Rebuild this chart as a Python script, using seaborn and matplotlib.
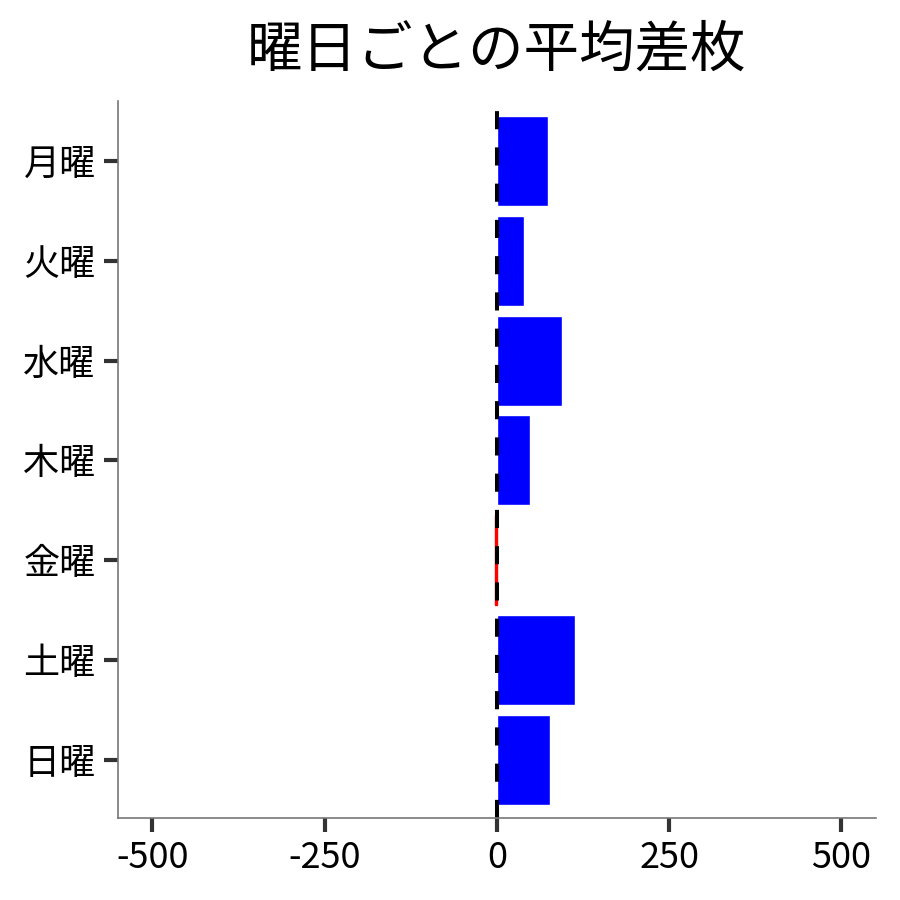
import matplotlib
matplotlib.use("Agg")
import matplotlib.pyplot as plt
import seaborn as sns
import pandas as pd

# ── data ───────────────────────────────────────────────
weekdays = ["月曜", "火曜", "水曜", "木曜", "金曜", "土曜", "日曜"]
avg_diff = [74, 40, 95, 48, -3, 113, 77]
x_ticks = [-500, -250, 0, 250, 500]

# ── style ──────────────────────────────────────────────
sns.set_theme(style="ticks")
plt.rcParams["font.family"] = ["Noto Sans CJK JP", "DejaVu Sans"]
plt.rcParams.update({
    "text.color": "black",
    "xtick.labelcolor": "black",
    "ytick.labelcolor": "black",
    "axes.titlecolor": "black",
})

df = pd.DataFrame({"weekday": weekdays, "diff": avg_diff})
df["sign"] = ["pos" if v >= 0 else "neg" for v in df["diff"]]

fig, ax = plt.subplots(figsize=(9, 9), dpi=100)
fig.subplots_adjust(left=0.131, right=0.973, bottom=0.091, top=0.888)

sns.barplot(data=df, y="weekday", x="diff", hue="sign",
            palette={"pos": "#0000FF", "neg": "#FF0000"},
            order=weekdays, orient="h", width=0.9, dodge=False,
            legend=False, saturation=1, ax=ax)

# make the tiny negative bar readable like in the reference
for bar in ax.patches:
    if bar.get_width() < 0:
        bar.set_edgecolor("#FF0000")
        bar.set_linewidth(1.0)

ax.axvline(0, color="black", linewidth=2.9, linestyle=(0, (4.5, 4.5)))

ax.set_xlim(-550, 550)
ax.set_ylim(6.58, -0.6)
ax.set_xticks(x_ticks)
ax.set_xticklabels([str(t) for t in x_ticks])
ax.set_xlabel("")
ax.set_ylabel("")
ax.set_title("曜日ごとの平均差枚", fontsize=40, pad=25, color="black")

ax.tick_params(axis="both", labelsize=26, length=10, width=3,
               color="#333333", labelcolor="black", pad=6)
for side in ["top", "right"]:
    ax.spines[side].set_visible(False)
for side in ["left", "bottom"]:
    ax.spines[side].set_color("#777777")
    ax.spines[side].set_linewidth(1.2)

fig.savefig("out.png", dpi=100)
plt.close(fig)
